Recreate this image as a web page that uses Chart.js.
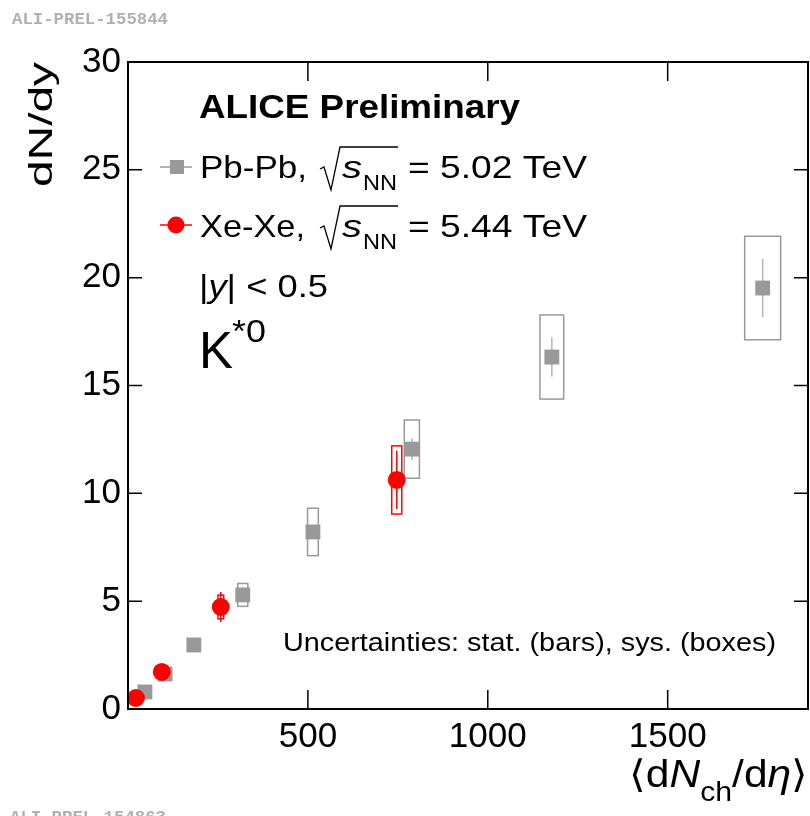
<!DOCTYPE html>
<html>
<head>
<meta charset="utf-8">
<script src="https://cdn.jsdelivr.net/npm/chart.js@4.4.0/dist/chart.umd.min.js"></script>
<style>
  body { margin: 0; background: #fff; }
  #wrap { width: 810px; height: 816px; position: relative; }
</style>
</head>
<body>
<div id="wrap"><canvas id="chart"></canvas></div>
<script>
// Pb-Pb, sqrt(sNN) = 5.02 TeV
const pbX = [47, 103, 183, 319, 514, 789, 1178, 1764];
const pbY = [0.79, 1.62, 2.97, 5.29, 8.21, 12.05, 16.32, 19.52];
const pbStat = [0.03, 0.05, 0.08, 0.15, 0.3, 0.5, 0.9, 1.35];
const pbSys = [0.1, 0.15, 0.25, 0.53, 1.1, 1.35, 1.95, 2.4];
const pbSysW = [6, 8, 10, 14, 15, 21, 33, 50];

// Xe-Xe, sqrt(sNN) = 5.44 TeV
const xeX = [22, 94, 258, 747];
const xeY = [0.51, 1.72, 4.73, 10.62];
const xeStat = [0.05, 0.1, 0.7, 1.35];
const xeSys = [0.08, 0.15, 0.55, 1.58];
const xeSysW = [4, 6, 8, 14];

const xTicks = [500, 1000, 1500];
const yTicks = [0, 5, 10, 15, 20, 25, 30];

const FONT = "'Liberation Sans', Arial, Helvetica, sans-serif";
const GRAY = '#999999';
const RED = '#ff0000';

// draw a string squeezed/stretched to a given width
function fitText(ctx, str, x, y, w, font) {
    ctx.font = font;
    var m = ctx.measureText(str).width;
    ctx.save();
    ctx.translate(x, y);
    ctx.scale(w / m, 1);
    ctx.fillText(str, 0, 0);
    ctx.restore();
}

// several pieces with own fonts / offsets, scaled together to width w
function richText(ctx, parts, x, y, w) {
    var total = 0;
    parts.forEach(function(p) {
        ctx.font = p.font;
        p.w = ctx.measureText(p.t).width;
        total += p.w;
    });
    ctx.save();
    ctx.translate(x, y);
    ctx.scale(w / total, 1);
    var cx = 0;
    parts.forEach(function(p) {
        ctx.font = p.font;
        ctx.fillText(p.t, cx, p.dy || 0);
        cx += p.w;
    });
    ctx.restore();
}

const errorBoxes = {
    id: 'errorBoxes',
    beforeDatasetsDraw: function(chart) {
        const ctx = chart.ctx;
        const xs = chart.scales.x, ys = chart.scales.y;
        function series(X, Y, stat, sys, sysW, boxColor, barColor) {
            for (var i = 0; i < X.length; i++) {
                var l = xs.getPixelForValue(X[i] - sysW[i]);
                var r = xs.getPixelForValue(X[i] + sysW[i]);
                var t = ys.getPixelForValue(Y[i] + sys[i]);
                var b = ys.getPixelForValue(Y[i] - sys[i]);
                ctx.strokeStyle = boxColor;
                ctx.lineWidth = 1.5;
                ctx.strokeRect(l, t, r - l, b - t);
                var cx = xs.getPixelForValue(X[i]);
                ctx.strokeStyle = barColor;
                ctx.beginPath();
                ctx.moveTo(cx, ys.getPixelForValue(Y[i] + stat[i]));
                ctx.lineTo(cx, ys.getPixelForValue(Y[i] - stat[i]));
                ctx.stroke();
            }
        }
        ctx.save();
        series(pbX, pbY, pbStat, pbSys, pbSysW, GRAY, '#b4b4b4');
        series(xeX, xeY, xeStat, xeSys, xeSysW, RED, RED);
        ctx.restore();
    }
};

const frameAndText = {
    id: 'frameAndText',
    afterDraw: function(chart) {
        const ctx = chart.ctx;
        const a = chart.chartArea;
        const xs = chart.scales.x, ys = chart.scales.y;
        ctx.save();
        // frame
        ctx.strokeStyle = '#000';
        ctx.lineWidth = 2;
        ctx.strokeRect(a.left, a.top, a.right - a.left, a.bottom - a.top);
        // inward ticks
        ctx.lineWidth = 1.5;
        ctx.beginPath();
        xTicks.forEach(function(v) {
            var px = xs.getPixelForValue(v);
            ctx.moveTo(px, a.bottom); ctx.lineTo(px, a.bottom - 19);
            ctx.moveTo(px, a.top); ctx.lineTo(px, a.top + 19);
        });
        yTicks.forEach(function(v) {
            var py = ys.getPixelForValue(v);
            ctx.moveTo(a.left, py); ctx.lineTo(a.left + 14, py);
            ctx.moveTo(a.right, py); ctx.lineTo(a.right - 14, py);
        });
        ctx.stroke();

        ctx.fillStyle = '#000';
        ctx.textBaseline = 'alphabetic';
        ctx.textAlign = 'left';

        // header
        fitText(ctx, 'ALICE Preliminary', 199, 118, 321, 'bold 33px ' + FONT);

        // legend markers
        ctx.lineWidth = 1.5;
        ctx.strokeStyle = GRAY;
        ctx.beginPath(); ctx.moveTo(160, 167); ctx.lineTo(192, 167); ctx.stroke();
        ctx.fillStyle = GRAY;
        ctx.fillRect(170, 160, 14, 14);
        ctx.strokeStyle = RED;
        ctx.beginPath(); ctx.moveTo(160, 225); ctx.lineTo(192, 225); ctx.stroke();
        ctx.fillStyle = RED;
        ctx.beginPath(); ctx.arc(176, 225, 8.5, 0, Math.PI * 2); ctx.fill();

        // legend text rows
        ctx.fillStyle = '#000';
        ctx.strokeStyle = '#000';
        var rows = [
            { name: 'Pb-Pb,', nameW: 107, e: '= 5.02 TeV', base: 178 },
            { name: 'Xe-Xe,', nameW: 105, e: '= 5.44 TeV', base: 237 }
        ];
        rows.forEach(function(r) {
            var b = r.base;
            fitText(ctx, r.name, 200, b, r.nameW, '32px ' + FONT);
            // radical sign with overline
            ctx.lineWidth = 1.3;
            ctx.beginPath();
            ctx.moveTo(320, b - 9);
            ctx.lineTo(324, b - 11);
            ctx.lineTo(331, b + 12);
            ctx.lineTo(340, b - 31);
            ctx.lineTo(398, b - 31);
            ctx.stroke();
            fitText(ctx, 's', 342, b, 20, 'italic 32px ' + FONT);
            fitText(ctx, 'NN', 363, b + 12, 34, '22px ' + FONT);
            fitText(ctx, r.e, 408, b, 179, '32px ' + FONT);
        });

        richText(ctx, [
            { t: '|', font: '32px ' + FONT },
            { t: 'y', font: 'italic 32px ' + FONT },
            { t: '| < 0.5', font: '32px ' + FONT }
        ], 199, 297, 129);

        // K*0
        fitText(ctx, 'K', 199, 368, 34, '52px ' + FONT);
        fitText(ctx, '*0', 232, 342, 34, '32px ' + FONT);

        // uncertainties note
        fitText(ctx, 'Uncertainties: stat. (bars), sys. (boxes)', 283, 651, 493, '26px ' + FONT);

        // axis titles
        richText(ctx, [
            { t: '\u27E8d', font: '38px ' + FONT },
            { t: 'N', font: 'italic 38px ' + FONT },
            { t: 'ch', font: '27px ' + FONT, dy: 14 },
            { t: '/d', font: '38px ' + FONT },
            { t: '\u03B7', font: 'italic 38px ' + FONT },
            { t: '\u27E9', font: '38px ' + FONT }
        ], 629, 787, 179);

        ctx.save();
        ctx.translate(52, 187);
        ctx.rotate(-Math.PI / 2);
        fitText(ctx, 'dN/dy', 0, 0, 125, '34px ' + FONT);
        ctx.restore();

        // preliminary ids
        ctx.fillStyle = '#b0b0b0';
        fitText(ctx, 'ALI-PREL-155844', 12, 24, 156, "bold 17px 'Liberation Mono', 'Courier New', monospace");
        fitText(ctx, 'ALI-PREL-154863', 10, 822, 156, "bold 17px 'Liberation Mono', 'Courier New', monospace");
        ctx.restore();
    }
};

new Chart(document.getElementById('chart').getContext('2d'), {
    type: 'scatter',
    data: {
        datasets: [{
            label: 'Pb-Pb',
            data: pbX.map(function(x, i) { return { x: x, y: pbY[i] }; }),
            pointStyle: 'rect',
            pointRadius: 10.5,
            backgroundColor: GRAY,
            borderWidth: 0,
            order: 1,
            clip: false
        }, {
            label: 'Xe-Xe',
            data: xeX.map(function(x, i) { return { x: x, y: xeY[i] }; }),
            pointStyle: 'circle',
            pointRadius: 9,
            backgroundColor: RED,
            borderWidth: 0,
            order: 0,
            clip: false
        }]
    },
    options: {
        responsive: true,
        maintainAspectRatio: false,
        animation: false,
        layout: { autoPadding: false, padding: { top: 62, right: 2, left: 0, bottom: 0 } },
        plugins: { legend: { display: false }, tooltip: { enabled: false } },
        scales: {
            x: {
                type: 'linear',
                min: 0,
                max: 1890,
                grid: { display: false, drawTicks: false },
                border: { display: false },
                ticks: {
                    color: '#000', padding: 7, font: { family: FONT, size: 35 },
                    callback: function(v) { return String(v); }
                },
                afterBuildTicks: function(s) { s.ticks = xTicks.map(function(v) { return { value: v }; }); },
                afterFit: function(s) { s.height = 107; s.paddingLeft = 0; s.paddingRight = 0; }
            },
            y: {
                type: 'linear',
                min: 0,
                max: 30,
                grid: { display: false, drawTicks: false },
                border: { display: false },
                ticks: {
                    color: '#000', padding: 7, font: { family: FONT, size: 35 },
                    callback: function(v) { return String(v); }
                },
                afterBuildTicks: function(s) { s.ticks = yTicks.map(function(v) { return { value: v }; }); },
                afterFit: function(s) { s.width = 128; s.paddingTop = 0; s.paddingBottom = 0; }
            }
        }
    },
    plugins: [errorBoxes, frameAndText]
});
</script>
</body>
</html>
